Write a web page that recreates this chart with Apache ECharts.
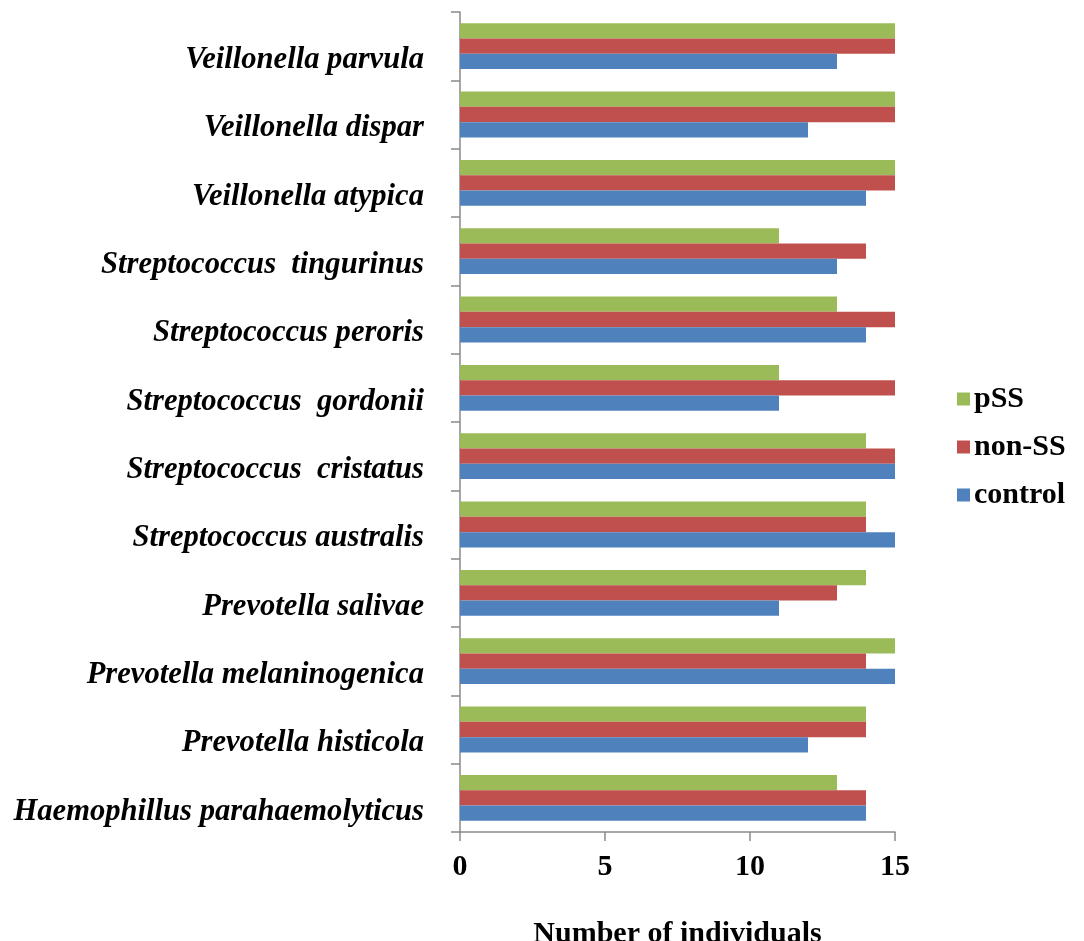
<!DOCTYPE html>
<html>
<head>
<meta charset="utf-8">
<title>Number of individuals per species</title>
<script src="https://cdn.jsdelivr.net/npm/echarts@6/dist/echarts.min.js"></script>
<style>
  html, body { margin: 0; padding: 0; background: #ffffff; }
  #chart { width: 1084px; height: 941px; }
</style>
</head>
<body>
<div id="chart"></div>
<script>
// Species, listed from the bottom of the axis to the top
const species = [
  'Haemophillus parahaemolyticus',
  'Prevotella histicola',
  'Prevotella melaninogenica',
  'Prevotella salivae',
  'Streptococcus australis',
  'Streptococcus  cristatus',
  'Streptococcus  gordonii',
  'Streptococcus peroris',
  'Streptococcus  tingurinus',
  'Veillonella atypica',
  'Veillonella dispar',
  'Veillonella parvula'
];

// Number of individuals in each group, same order as species
const control = [14, 12, 15, 11, 15, 15, 11, 14, 13, 14, 12, 13];
const nonSS   = [14, 14, 14, 13, 14, 15, 15, 15, 14, 15, 15, 15];
const pSS     = [13, 14, 15, 14, 14, 14, 11, 13, 11, 15, 15, 15];

const xTicks = { min: 0, max: 15, interval: 5 };

const serif = '"Liberation Serif", "Times New Roman", serif';
const axisGray = '#8a8a8a';

const chart = echarts.init(document.getElementById('chart'), null, { renderer: 'canvas' });

chart.setOption({
  animation: false,
  backgroundColor: '#ffffff',
  grid: {
    left: 460, right: 189, top: 12, bottom: 109,
    containLabel: false,
    outerBoundsMode: 'none'
  },
  legend: {
    orient: 'vertical',
    left: 952,
    top: 379,
    itemWidth: 13,
    itemHeight: 13,
    itemGap: 18,
    icon: 'rect',
    data: ['pSS', 'non-SS', 'control'],
    textStyle: {
      fontFamily: serif,
      fontWeight: 'bold',
      fontSize: 30,
      color: '#000000',
      padding: [0, 0, 0, -1]
    }
  },
  xAxis: {
    type: 'value',
    min: xTicks.min,
    max: xTicks.max,
    interval: xTicks.interval,
    name: 'Number of individuals',
    nameLocation: 'middle',
    nameGap: 87,
    nameTextStyle: {
      fontFamily: serif,
      fontWeight: 'bold',
      fontSize: 30,
      color: '#000000'
    },
    axisLine: { show: true, lineStyle: { color: axisGray, width: 1.5 } },
    axisTick: { show: true, length: 9, lineStyle: { color: axisGray, width: 1.5 } },
    splitLine: { show: false },
    axisLabel: {
      margin: 20,
      fontFamily: serif,
      fontWeight: 'bold',
      fontSize: 30,
      color: '#000000'
    }
  },
  yAxis: {
    type: 'category',
    data: species,
    axisLine: { show: true, lineStyle: { color: axisGray, width: 1.5 } },
    axisTick: { show: true, length: 9, alignWithLabel: false, lineStyle: { color: axisGray, width: 1.5 } },
    axisLabel: {
      margin: 36,
      fontFamily: serif,
      fontWeight: 'bold',
      fontStyle: 'italic',
      fontSize: 30.6,
      lineHeight: 28,
      verticalAlign: 'top',
      color: '#000000'
    },
    splitLine: { show: false }
  },
  // pSS is drawn on top of each group, control at the bottom
  series: [
    {
      name: 'pSS', type: 'bar', data: pSS,
      itemStyle: { color: '#9BBB59' },
      barGap: '0%', barCategoryGap: '33%'
    },
    {
      name: 'non-SS', type: 'bar', data: nonSS,
      itemStyle: { color: '#C0504D' },
      barGap: '0%', barCategoryGap: '33%'
    },
    {
      name: 'control', type: 'bar', data: control,
      itemStyle: { color: '#4F81BD' },
      barGap: '0%', barCategoryGap: '33%'
    }
  ]
});
</script>
</body>
</html>
